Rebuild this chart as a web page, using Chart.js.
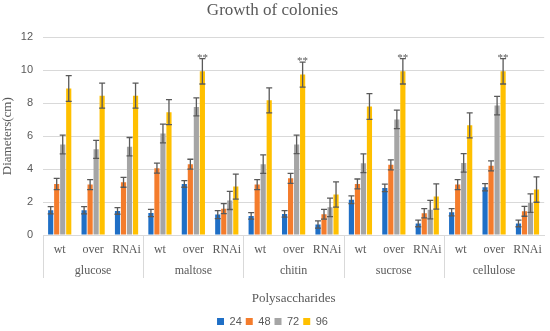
<!DOCTYPE html>
<html>
<head>
<meta charset="utf-8">
<script src="https://cdn.jsdelivr.net/npm/chart.js@4"></script>
<style>
  html, body { margin: 0; padding: 0; background: #fff; }
  #wrap { width: 550px; height: 331px; }
</style>
</head>
<body>
<div id="wrap"><canvas id="growth"></canvas></div>
<script>
const genotypes = ['wt', 'over', 'RNAi'];
const polysaccharides = ['glucose', 'maltose', 'chitin', 'sucrose', 'cellulose'];
const hours = ['24', '48', '72', '96'];

const h24 = [1.5, 1.5, 1.46, 1.34, 3.1, 1.24, 1.16, 1.28, 0.64, 2.14, 2.86, 0.7, 1.38, 2.9, 0.7];
const h48 = [3.1, 3.06, 3.2, 4.06, 4.3, 1.6, 3.06, 3.44, 1.26, 3.1, 4.26, 1.32, 3.06, 4.2, 1.44];
const h72 = [5.5, 5.2, 5.36, 6.16, 7.78, 2.1, 4.3, 5.5, 1.68, 4.36, 7.02, 1.54, 4.38, 7.86, 1.94];
const h96 = [8.9, 8.46, 8.46, 7.46, 9.94, 2.94, 8.18, 9.74, 2.46, 7.8, 9.94, 2.34, 6.66, 9.94, 2.76];

const e24 = [0.22, 0.22, 0.2, 0.22, 0.2, 0.24, 0.2, 0.2, 0.22, 0.24, 0.23, 0.2, 0.22, 0.22, 0.2];
const e48 = [0.34, 0.3, 0.3, 0.3, 0.3, 0.3, 0.3, 0.3, 0.3, 0.3, 0.3, 0.28, 0.3, 0.3, 0.3];
const e72 = [0.57, 0.55, 0.56, 0.57, 0.55, 0.55, 0.56, 0.56, 0.56, 0.57, 0.56, 0.56, 0.56, 0.56, 0.56];
const e96 = [0.78, 0.76, 0.76, 0.76, 0.77, 0.76, 0.76, 0.76, 0.77, 0.78, 0.77, 0.77, 0.76, 0.77, 0.77];

// significance marks on the 96h bars
const stars96 = ['', '', '', '', '**', '', '', '**', '', '', '**', '', '', '**', ''];

const colors = ['#1f6fc6', '#f47c2c', '#a5a5a5', '#ffc000'];
const textGray = '#595959';
const gridGray = '#d9d9d9';

// one label per bar group (genotype repeated for each sugar)
const labels = [];
polysaccharides.forEach(() => genotypes.forEach(g => labels.push(g)));

const values = [h24, h48, h72, h96];
const errors = [e24, e48, e72, e96];

const errorBars = {
    id: 'errorBars',
    afterDatasetsDraw(chart) {
        const ctx = chart.ctx;
        const y = chart.scales.y;
        ctx.save();
        ctx.strokeStyle = '#595959';
        ctx.lineWidth = 1.3;
        chart.data.datasets.forEach((ds, di) => {
            const meta = chart.getDatasetMeta(di);
            meta.data.forEach((bar, i) => {
                const v = ds.data[i];
                const e = errors[di][i];
                const top = y.getPixelForValue(v + e);
                const bot = y.getPixelForValue(v - e);
                ctx.beginPath();
                ctx.moveTo(bar.x, top);
                ctx.lineTo(bar.x, bot);
                ctx.moveTo(bar.x - 3, top);
                ctx.lineTo(bar.x + 3, top);
                ctx.moveTo(bar.x - 3, bot);
                ctx.lineTo(bar.x + 3, bot);
                ctx.stroke();
                if (di === 3 && stars96[i]) {
                    ctx.fillStyle = '#595959';
                    ctx.font = '11px "Liberation Serif"';
                    ctx.textAlign = 'center';
                    ctx.textBaseline = 'bottom';
                    ctx.fillText(stars96[i], bar.x, top + 5);
                }
            });
        });
        ctx.restore();
    }
};

// vertical separators between the sugar groups, through both label rows
const groupLines = {
    id: 'groupLines',
    afterDraw(chart) {
        const ctx = chart.ctx;
        const x = chart.scales.x;
        const x2 = chart.scales.x2;
        const step = (x.getPixelForValue(1) - x.getPixelForValue(0));
        ctx.save();
        ctx.strokeStyle = gridGray;
        ctx.lineWidth = 1;
        for (let g = 0; g < polysaccharides.length; g++) {
            const px = Math.round(x.getPixelForValue(g * genotypes.length) - step / 2) + 0.5;
            ctx.beginPath();
            ctx.moveTo(px, chart.chartArea.bottom);
            ctx.lineTo(px, x2.top + 21);
            ctx.stroke();
        }
        ctx.restore();
    }
};

// push the legend row a little lower, closer to the bottom edge
const legendDown = {
    id: 'legendDown',
    afterLayout(chart) {
        chart.legend.top += 6;
        chart.legend.bottom += 6;
    }
};

new Chart(document.getElementById('growth'), {
    type: 'bar',
    data: {
        labels: labels,
        datasets: hours.map((h, i) => ({
            label: h,
            data: values[i],
            backgroundColor: colors[i],
            categoryPercentage: 0.72,
            barPercentage: 0.86
        }))
    },
    options: {
        responsive: true,
        maintainAspectRatio: false,
        animation: false,
        layout: { padding: { left: 0, right: 5, top: 0, bottom: 0 } },
        plugins: {
            title: {
                display: true,
                text: 'Growth of colonies',
                color: textGray,
                font: { family: 'Liberation Serif', size: 17, weight: 'normal' },
                padding: { top: 0, bottom: 17 }
            },
            legend: {
                position: 'bottom',
                labels: {
                    color: textGray,
                    font: { family: 'Liberation Sans', size: 11, lineHeight: 1 },
                    boxWidth: 7,
                    boxHeight: 7,
                    padding: 4
                }
            },
            tooltip: { enabled: false }
        },
        scales: {
            y: {
                min: 0,
                max: 12,
                ticks: {
                    stepSize: 2,
                    color: textGray,
                    padding: 10,
                    font: { family: 'Liberation Sans', size: 11 }
                },
                grid: { color: gridGray, drawTicks: false },
                border: { display: false },
                title: {
                    display: true,
                    text: 'Diameters(cm)',
                    color: textGray,
                    font: { family: 'Liberation Serif', size: 13 },
                    padding: { top: 0, bottom: 0 }
                },
                afterFit(scale) { scale.width = 43; }
            },
            x: {
                ticks: {
                    color: textGray,
                    padding: 8,
                    maxRotation: 0,
                    minRotation: 0,
                    autoSkip: false,
                    font: { family: 'Liberation Serif', size: 12 }
                },
                grid: { display: false, drawTicks: false },
                border: { color: gridGray },
                afterFit(scale) { scale.height = 22; }
            },
            x2: {
                type: 'category',
                position: 'bottom',
                labels: polysaccharides,
                offset: true,
                ticks: {
                    color: textGray,
                    padding: 7,
                    maxRotation: 0,
                    font: { family: 'Liberation Serif', size: 12 }
                },
                grid: { display: false, drawTicks: false },
                border: { display: false },
                title: {
                    display: true,
                    text: 'Polysaccharides',
                    color: textGray,
                    font: { family: 'Liberation Serif', size: 13 },
                    padding: { top: 14, bottom: 0 }
                },
                afterFit(scale) { scale.height = 49; }
            }
        }
    },
    plugins: [errorBars, groupLines, legendDown]
});
</script>
</body>
</html>
